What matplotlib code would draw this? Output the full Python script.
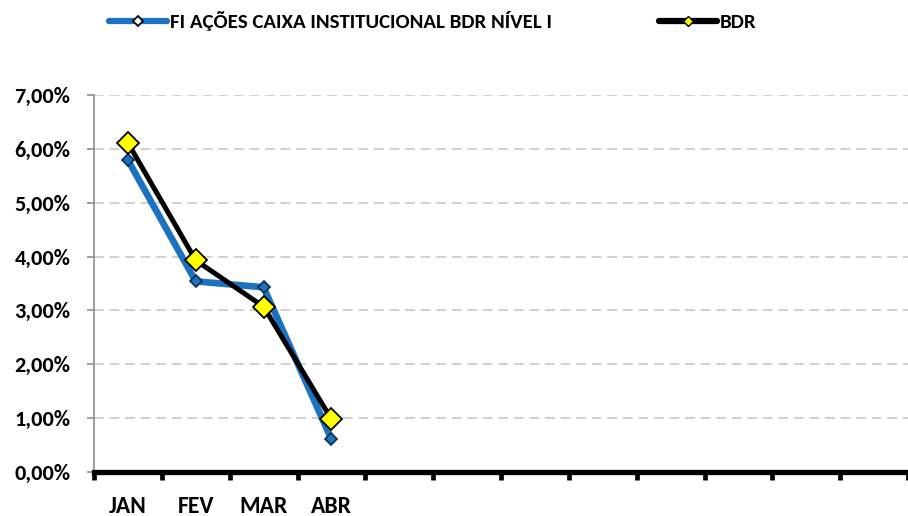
import numpy as np
import matplotlib
matplotlib.use('Agg')
import matplotlib.pyplot as plt
from matplotlib.ticker import FuncFormatter
from matplotlib.lines import Line2D

# dados (rentabilidade mensal, %)
meses = ["JAN", "FEV", "MAR", "ABR", "", "", "", "", "", "", "", ""]
fundo = [5.79, 3.54, 3.43, 0.61]
bdr = [6.11, 3.93, 3.07, 0.98]
nome_fundo = "FI AÇÕES CAIXA INSTITUCIONAL BDR NÍVEL I"
nome_bdr = "BDR"

azul = "#1a72c0"
plt.rcParams['font.family'] = ['Carlito', 'DejaVu Sans']
plt.rcParams['font.weight'] = 'bold'

fig = plt.figure(figsize=(9.08, 5.16), dpi=100)
ax = fig.add_axes([94 / 908, 44 / 516, 814 / 908, 377 / 516])

x = np.arange(len(fundo)) + 0.5
ax.plot(x, fundo, color=azul, lw=4.8, marker="D", ms=6,
        mfc=azul, mec="#0b2d4d", mew=1.2, zorder=3)
ax.plot(x, bdr, color="black", lw=3.6, marker="D", ms=11.5,
        mfc="#ffff00", mec="black", mew=1.3, zorder=4)

ax.set_xlim(0, len(meses))
ax.set_ylim(0, 7)
ax.set_yticks(np.arange(0, 8, 1))
ax.yaxis.set_major_formatter(FuncFormatter(lambda v, p: f"{v:.2f}".replace(".", ",") + "%"))
ax.grid(axis="y", color="#d0d0d0", ls=(0, (5, 3)), lw=1.4)
ax.set_axisbelow(True)

# ticks nas fronteiras, rótulos no centro
ax.set_xticks(np.arange(0, len(meses) + 1))
ax.set_xticklabels([])
ax.set_xticks(np.arange(len(meses)) + 0.5, minor=True)
ax.set_xticklabels(meses, minor=True, fontsize=17, fontweight="bold")
ax.tick_params(axis="x", which="major", length=6, width=3.4, color="black", direction="out")
ax.tick_params(axis="x", which="minor", length=0, pad=17)
ax.tick_params(axis="y", length=5, width=1.2, color="#8c8c8c", labelsize=16, pad=12)
for lab in ax.get_yticklabels():
    lab.set_fontweight("bold")

for s in ["top", "right"]:
    ax.spines[s].set_visible(False)
ax.spines["left"].set_color("#8c8c8c")
ax.spines["left"].set_linewidth(1.2)
ax.spines["bottom"].set_color("black")
ax.spines["bottom"].set_linewidth(3.8)

handles = [
    Line2D([], [], color=azul, lw=4.5, marker="D", ms=5, mfc="white", mec="black", mew=1.3,
           solid_capstyle="round"),
    Line2D([], [], color="black", lw=4.5, marker="D", ms=5, mfc="#ffff00", mec="black", mew=1.0,
           solid_capstyle="round"),
]
fig.legend(handles, [nome_fundo, nome_bdr], loc="center left",
           bbox_to_anchor=(109 / 908, 1 - 21 / 516),
           ncol=2, frameon=False, handlelength=2.8, handletextpad=0.15,
           columnspacing=5.1, borderpad=0, borderaxespad=0,
           prop={'family': ['Carlito', 'DejaVu Sans'], 'weight': 'bold', 'size': 15})

fig.savefig("out.png", dpi=100)
